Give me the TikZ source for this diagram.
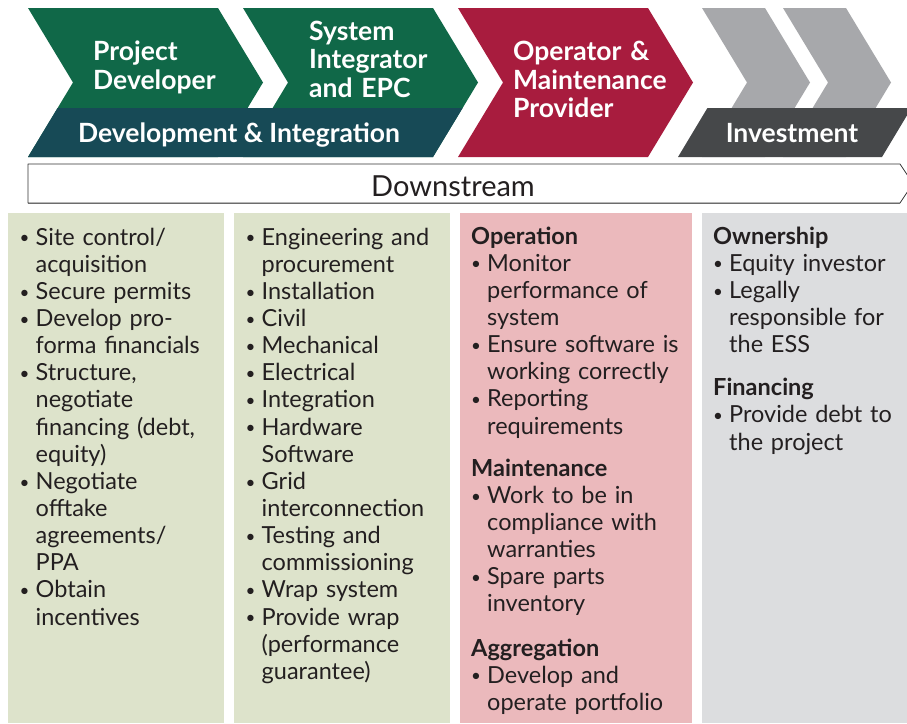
\documentclass[tikz,border=0pt]{standalone}
\usepackage{fontspec}
\setmainfont{Lato}
\definecolor{devgreen}{HTML}{106848}
\definecolor{devteal}{HTML}{174A56}
\definecolor{omred}{HTML}{A81C3E}
\definecolor{invgrey}{HTML}{A7A8AB}
\definecolor{invdark}{HTML}{46484A}
\definecolor{boxgreen}{HTML}{DDE3CB}
\definecolor{boxpink}{HTML}{EBB9BC}
\definecolor{boxgrey}{HTML}{DCDDDF}
\definecolor{ink}{HTML}{231F20}
\newcommand\bitem[1]{\hangindent=16pt\hangafter=1\makebox[16pt][l]{\fontsize{17}{17}\selectfont\raisebox{1.3pt}{\textbullet}}#1\par}
\newcommand\bhead[2][0pt]{\ifdim#1>0pt\vspace{#1}\fi\textbf{#2}\par}
\begin{document}
\begin{tikzpicture}[x=1pt,y=-1pt, line join=round,
    chev/.style={font=\fontsize{26.5}{28.5}\selectfont\bfseries, text=white, anchor=base west, text width=200pt, inner sep=0pt, align=left},
    band/.style={font=\fontsize{26.5}{28}\selectfont\bfseries, text=white, anchor=base, inner sep=0pt},
    col/.style={font=\fontsize{23.5}{27.15}\selectfont, text=ink, anchor=base west, text width=240pt, inner sep=0pt, align=left}]
  \useasboundingbox (0,0) rectangle (907,723);
  % chevrons
  \foreach \x/\w/\col in {28/190/devgreen,243/190/devgreen,458/190/omred,702/63/invgrey,783/63/invgrey}
    \fill[\col] (\x,8)--(\x+\w,8)--(\x+\w+45,82.5)--(\x+\w,157)--(\x,157)--(\x+45,82.5)--cycle;
  \fill[devteal] (57.6,108)--(462.6,108)--(433,157)--(28,157)--cycle;
  \fill[invdark] (707.4,108)--(911.4,108)--(882,157)--(678,157)--cycle;
  \node[chev] (pd) at (93,60.5) {Project\newline Developer};
  \node[chev] (si) at (309,40) {System\newline Integrator\newline and EPC};
  \node[chev] (om) at (513,60.5) {Operator \&\newline Maintenance\newline Provider};
  \node[band] (di) at (239,142.5) {Development \& Integration};
  \node[band] (inv) at (792,142.5) {Investment};
  % downstream arrow
  \draw[black!45, line width=1.4pt] (28,203.5)--(900,203.5);
  \draw[black!80, line width=.8pt] (28,164)--(900,164)--(913,183.5)--(900,203)--(28,203)--cycle;
  \node[font=\fontsize{29}{30}\selectfont, text=ink, anchor=base] (down) at (453,196) {Downstream};
  % columns
  \foreach \a/\b/\col in {8/224/boxgreen,234/450/boxgreen,460/692/boxpink,702/907/boxgrey}
    \fill[\col] (\a,213) rectangle (\b,723);
  \node[col] (dev) at (19.5,245) {\bitem{Site control/\newline acquisition}
    \bitem{Secure permits}
    \bitem{Develop pro-\newline forma financials}
    \bitem{Structure,\newline negotiate\newline financing (debt,\newline equity)}
    \bitem{Negotiate\newline offtake\newline agreements/\newline PPA}
    \bitem{Obtain\newline incentives}};
  \node[col] (epc) at (245.5,245) {\bitem{Engineering and\newline procurement}
    \bitem{Installation}
    \bitem{Civil}
    \bitem{Mechanical}
    \bitem{Electrical}
    \bitem{Integration}
    \bitem{Hardware\newline Software}
    \bitem{Grid\newline interconnection}
    \bitem{Testing and\newline commissioning}
    \bitem{Wrap system}
    \bitem{Provide wrap\newline (performance\newline guarantee)}};
  \node[col] (oper) at (471,244) {\bhead{Operation}
    \bitem{Monitor\newline performance of\newline system}
    \bitem{Ensure software is\newline working correctly}
    \bitem{Reporting\newline requirements}
    \bhead[15pt]{Maintenance}
    \bitem{Work to be in\newline compliance with\newline warranties}
    \bitem{Spare parts\newline inventory}
    \bhead[17pt]{Aggregation}
    \bitem{Develop and\newline operate portfolio}};
  \node[col] (own) at (713,244) {\bhead{Ownership}
    \bitem{Equity investor}
    \bitem{Legally\newline responsible for\newline the ESS}
    \bhead[16pt]{Financing}
    \bitem{Provide debt to\newline the project}};
\end{tikzpicture}
\end{document}
